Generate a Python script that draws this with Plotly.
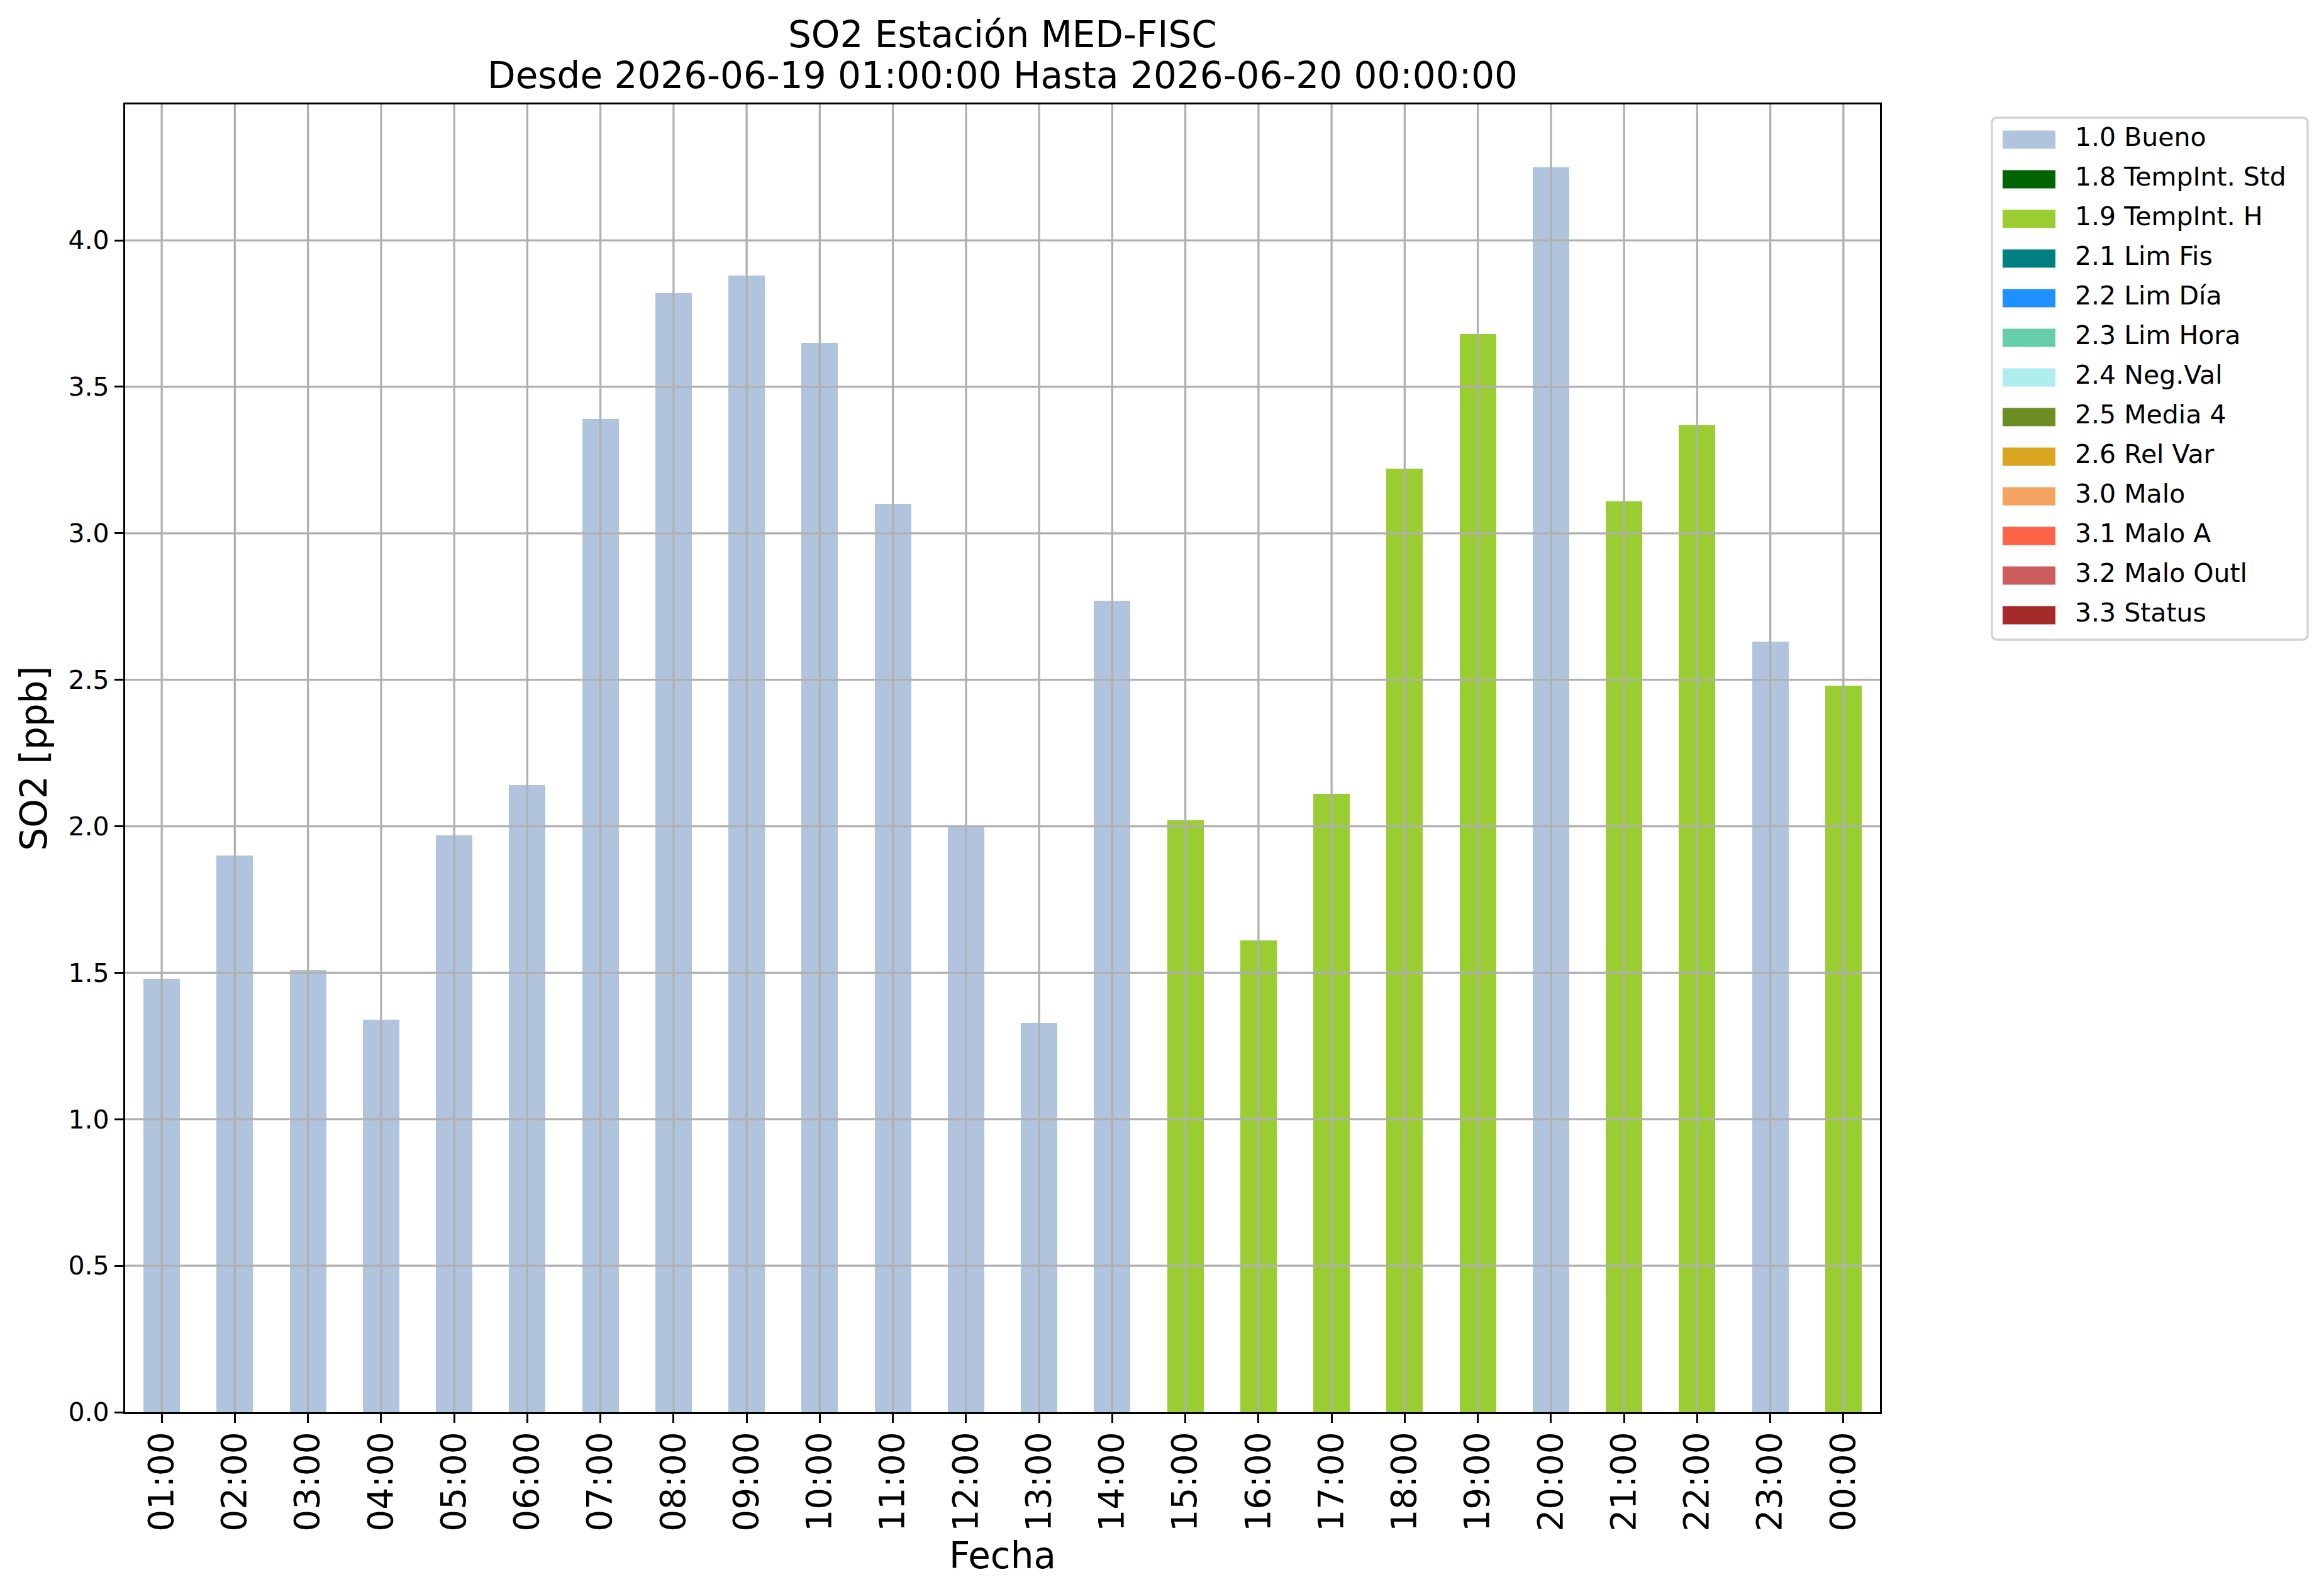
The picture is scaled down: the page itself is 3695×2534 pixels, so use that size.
import plotly.graph_objects as go

# ---------------- data ----------------
hours = ["01:00", "02:00", "03:00", "04:00", "05:00", "06:00", "07:00", "08:00",
         "09:00", "10:00", "11:00", "12:00", "13:00", "14:00", "15:00", "16:00",
         "17:00", "18:00", "19:00", "20:00", "21:00", "22:00", "23:00", "00:00"]
so2_values = [1.48, 1.90, 1.51, 1.34, 1.97, 2.14, 3.39, 3.82,
              3.88, 3.65, 3.10, 2.00, 1.33, 2.77, 2.02, 1.61,
              2.11, 3.22, 3.68, 4.25, 3.11, 3.37, 2.63, 2.48]
flags = ["1.0 Bueno", "1.0 Bueno", "1.0 Bueno", "1.0 Bueno", "1.0 Bueno", "1.0 Bueno",
         "1.0 Bueno", "1.0 Bueno", "1.0 Bueno", "1.0 Bueno", "1.0 Bueno", "1.0 Bueno",
         "1.0 Bueno", "1.0 Bueno", "1.9 TempInt. H", "1.9 TempInt. H", "1.9 TempInt. H",
         "1.9 TempInt. H", "1.9 TempInt. H", "1.0 Bueno", "1.9 TempInt. H",
         "1.9 TempInt. H", "1.0 Bueno", "1.9 TempInt. H"]
categories = ["1.0 Bueno", "1.8 TempInt. Std", "1.9 TempInt. H", "2.1 Lim Fis",
              "2.2 Lim Día", "2.3 Lim Hora", "2.4 Neg.Val", "2.5 Media 4",
              "2.6 Rel Var", "3.0 Malo", "3.1 Malo A", "3.2 Malo Outl", "3.3 Status"]
colors = ["#B0C4DE", "#006400", "#9ACD32", "#008080", "#1E90FF", "#66CDAA",
          "#AFEEEE", "#6B8E23", "#DAA520", "#F4A460", "#FF6347", "#CD5C5C", "#A52A2A"]
y_ticks = [0.0, 0.5, 1.0, 1.5, 2.0, 2.5, 3.0, 3.5, 4.0]

# ---------------- geometry (window pixels) ----------------
WIN_W, WIN_H = 3695, 2534
OFF = 8  # default page body margin
L, R, T, B = 199, 2989, 166, 2245
FONT = "DejaVu Sans"
GRID = "#b0b0b0"


def px(x):
    return (x - L) / (R - L)


def py(y):
    return (B - y) / (B - T)


fig = go.Figure()
for cat, col in zip(categories, colors):
    yv = [v if f == cat else 0 for v, f in zip(so2_values, flags)]
    fig.add_trace(go.Bar(x=hours, y=yv, name=cat, marker=dict(color=col, line=dict(width=0)),
                         width=0.5, showlegend=False))

shapes = []
# grid lines drawn above bars (as in the reference)
for h in hours:
    shapes.append(dict(type="line", xref="x", yref="paper", x0=h, x1=h, y0=0, y1=1,
                       line=dict(color=GRID, width=3.3), layer="above"))
for t in y_ticks[1:]:
    shapes.append(dict(type="line", xref="paper", yref="y", x0=0, x1=1, y0=t, y1=t,
                       line=dict(color=GRID, width=3.3), layer="above"))

annotations = []
annotations.append(dict(text="SO2 Estación MED-FISC", xref="paper", yref="paper",
                        x=0.5, y=py(55), xanchor="center", yanchor="middle", showarrow=False,
                        font=dict(family=FONT, size=58, color="black")))
annotations.append(dict(text="Desde 2026-06-19 01:00:00 Hasta 2026-06-20 00:00:00", xref="paper",
                        yref="paper", x=0.5, y=py(120), xanchor="center", yanchor="middle",
                        showarrow=False, font=dict(family=FONT, size=58, color="black")))
annotations.append(dict(text="Fecha", xref="paper", yref="paper", x=0.5, y=py(2473),
                        xanchor="center", yanchor="middle", showarrow=False,
                        font=dict(family=FONT, size=58, color="black")))
annotations.append(dict(text="SO2 [ppb]", xref="paper", yref="paper", x=px(53), y=0.5,
                        xanchor="center", yanchor="middle", showarrow=False, textangle=-90,
                        font=dict(family=FONT, size=58, color="black")))

# legend drawn with shapes + text to match the rectangular matplotlib handles
bx0, bx1, by0, by1 = 3167, 3669, 187, 1017
rr = 9
path = (f"M {px(bx0 + rr)},{py(by0)} L {px(bx1 - rr)},{py(by0)} Q {px(bx1)},{py(by0)} {px(bx1)},{py(by0 + rr)} "
        f"L {px(bx1)},{py(by1 - rr)} Q {px(bx1)},{py(by1)} {px(bx1 - rr)},{py(by1)} "
        f"L {px(bx0 + rr)},{py(by1)} Q {px(bx0)},{py(by1)} {px(bx0)},{py(by1 - rr)} "
        f"L {px(bx0)},{py(by0 + rr)} Q {px(bx0)},{py(by0)} {px(bx0 + rr)},{py(by0)} Z")
shapes.append(dict(type="path", xref="paper", yref="paper", path=path,
                   line=dict(color="#d4d4d4", width=3.5), fillcolor="white", layer="above"))
row0, step = 222.0, 63.0
for i, (cat, col) in enumerate(zip(categories, colors)):
    yc = row0 + i * step
    shapes.append(dict(type="rect", xref="paper", yref="paper", x0=px(3184), x1=px(3268),
                       y0=py(yc + 14.5), y1=py(yc - 14.5), fillcolor=col,
                       line=dict(width=0), layer="above"))
    annotations.append(dict(text=cat, xref="paper", yref="paper", x=px(3297), y=py(yc - 4),
                            xanchor="left", yanchor="middle", showarrow=False,
                            font=dict(family=FONT, size=41, color="black")))

fig.update_layout(
    width=WIN_W - OFF, height=WIN_H - OFF,
    margin=dict(l=L - OFF, r=WIN_W - R, t=T - OFF, b=WIN_H - B, autoexpand=False),
    paper_bgcolor="white", plot_bgcolor="white",
    barmode="stack", bargap=0.5,
    showlegend=False,
    shapes=shapes, annotations=annotations,
    font=dict(family=FONT, color="black"),
)
fig.update_xaxes(type="category", range=[-0.5, 23.5], tickangle=-90,
                 ticks="outside", ticklen=14, tickwidth=3.3, tickcolor="black",
                 ticklabelstandoff=-8,
                 showline=True, linecolor="black", linewidth=3.3, mirror=True,
                 showgrid=False, zeroline=False, layer="above traces",
                 tickfont=dict(family=FONT, size=55, color="black"))
fig.update_yaxes(range=[0, 4.464], tickvals=y_ticks, ticktext=[f"{t:.1f}" for t in y_ticks],
                 ticks="outside", ticklen=14, tickwidth=3.3, tickcolor="black",
                 showline=True, linecolor="black", linewidth=3.3, mirror=True,
                 showgrid=False, zeroline=False, layer="above traces",
                 tickfont=dict(family=FONT, size=41, color="black"))

fig.write_html("out.html")
